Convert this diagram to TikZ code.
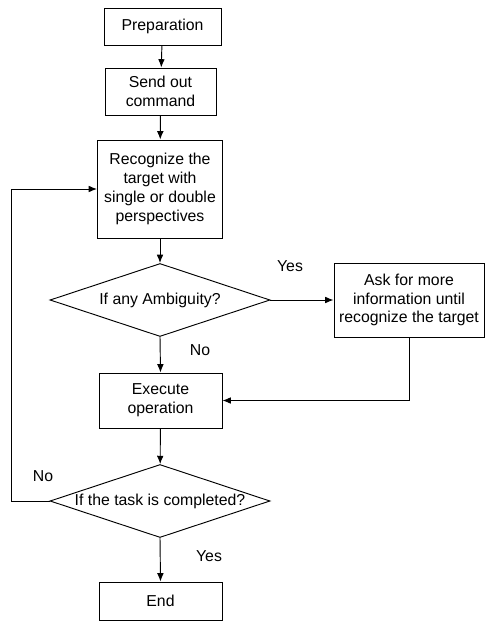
\documentclass[tikz,border=0pt]{standalone}
\usepackage{fontspec}
\setmainfont{Liberation Sans}
\usetikzlibrary{shapes.geometric, arrows.meta}

\begin{document}
\begin{tikzpicture} [>={Latex[length=2.5mm, width=2mm]}, x=0.03cm, y=-0.03cm, line width=0.8pt,
	box/.style={draw, rectangle, align=center, inner sep=0pt, font=\fontsize{13.5}{16}\selectfont},
	decision/.style={draw, diamond, aspect=3, inner sep=0pt, minimum width=6.6cm, minimum height=2.19cm, font=\fontsize{13.5}{16}\selectfont},
	lbl/.style={font=\fontsize{13.5}{16}\selectfont}]
			\useasboundingbox (0,0) rectangle (485,624);
			%%% Blocchi
			\node[box, minimum width=3.51cm, minimum height=1.11cm] (prep) at (162.5,26.5) {Preparation};
			\node[box, minimum width=3.33cm, minimum height=1.41cm] (send) at (160.5,91.5) {Send out\\command};
			\node[box, minimum width=3.75cm, minimum height=2.94cm] (recog) at (160,189) {Recognize the\\target with\\single or double\\perspectives};
			\node[decision] (amb) at (160,300) {If any Ambiguity?};
			\node[box, minimum width=4.5cm, minimum height=2.22cm] (ask) at (409,300) {Ask for more\\information until\\recognize the target};
			\node[box, minimum width=3.69cm, minimum height=1.65cm] (exec) at (160.5,400.5) {Execute\\operation};
			\node[decision] (done) at (160,501) {If the task is completed?};
			\node[box, minimum width=3.69cm, minimum height=1.14cm] (fine) at (160.5,601) {End};
			%%% Frecce
			\draw[->] (prep) -- (send);
			\draw[->] (send) -- (recog);
			\draw[->] (recog) -- (amb);
			\draw[->] (amb.east) -- (ask.west);
			\draw[->] (amb.south) -- (exec.north);
			\draw[->] (ask.south) |- (exec.east);
			\draw[->] (exec) -- (done);
			\draw[->] (done.south) -- (fine.north);
			\coordinate (back) at (11,501);
			\draw[->] (done.west) -- (back) |- (recog.west);
			%%% Etichette
			\node[lbl] (yes1) at (290,266) {Yes};
			\node[lbl] (no1) at (200,350) {No};
			\node[lbl] (no2) at (43,476) {No};
			\node[lbl] (yes2) at (209,556) {Yes};
		\end{tikzpicture}
\end{document}
